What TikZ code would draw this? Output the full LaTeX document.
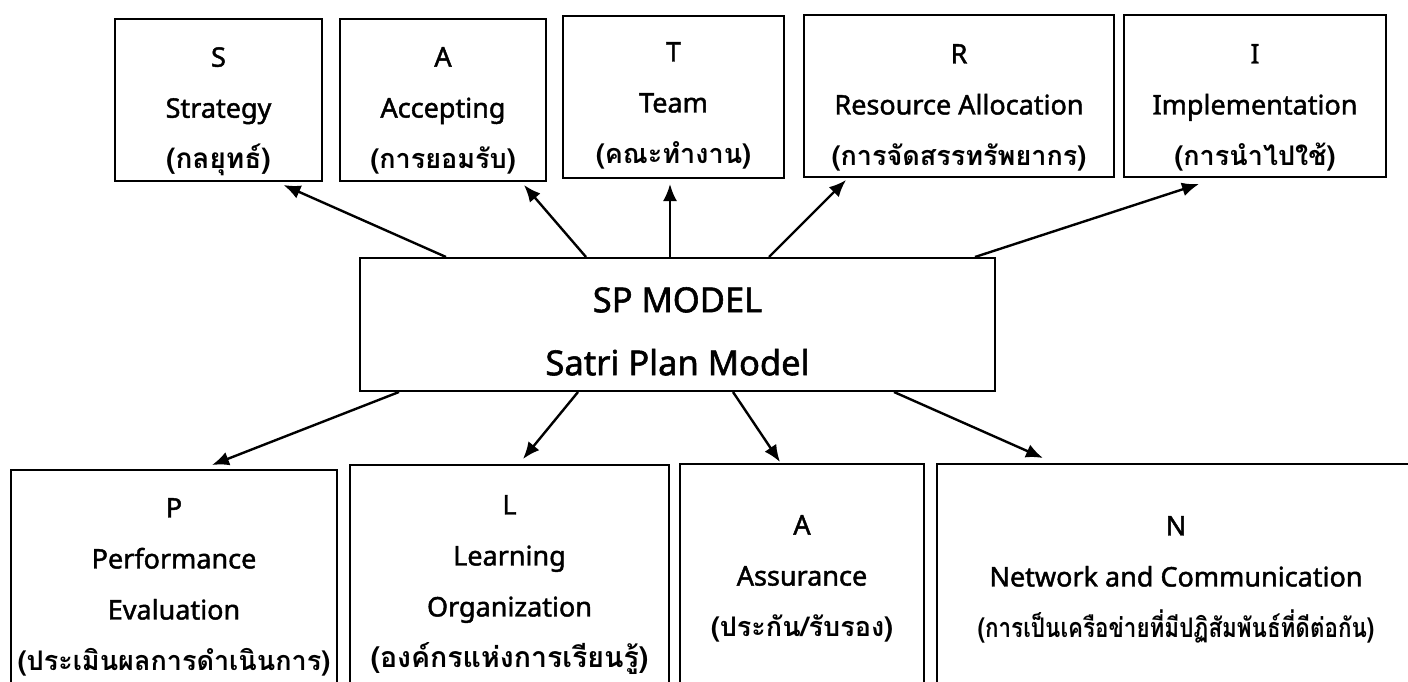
\documentclass[tikz,border=0pt]{standalone}
\usepackage{fontspec}
\usepackage{graphicx}
\setmainfont{Noto Sans}[FakeBold=1.6,AutoFakeBold=1.6]
\newfontfamily\thaifont[Script=Thai]{Loma}
\newcommand\thtext[2][27]{{\thaifont\bfseries\fontsize{#1}{51}\selectfont #2}}
\usetikzlibrary{arrows.meta}
\begin{document}
\begin{tikzpicture}[x=1pt,y=-1pt,
  box/.style={draw=black,line width=2pt,inner sep=0pt,anchor=north west},
  lbl/.style={align=center,inner sep=0pt,anchor=north,font=\fontsize{27}{51}\selectfont},
  mainlbl/.style={align=center,inner sep=0pt,anchor=north,font=\fontsize{34.5}{63}\selectfont},
  arr/.style={line width=2.4pt,-{Latex[length=17pt,width=14pt]}}]
\clip (0,0) rectangle (1408,682);
\fill[white] (0,0) rectangle (1408,682);

% top row of boxes
\node[box,minimum width=207pt,minimum height=162pt] (s) at (114,18) {};
\node[box,minimum width=206pt,minimum height=162pt] (a) at (339,18) {};
\node[box,minimum width=221pt,minimum height=162pt] (t) at (562,15) {};
\node[box,minimum width=310pt,minimum height=162pt] (r) at (803,14) {};
\node[box,minimum width=262pt,minimum height=162pt] (i) at (1123,14) {};

\node[lbl] (sl) at ([yshift=-29pt]s.north) {S\\Strategy\\\thtext[28]{(กลยุทธ์)}};
\node[lbl] (al) at ([yshift=-29pt]a.north) {A\\Accepting\\\thtext{(การยอมรับ)}};
\node[lbl] (tl) at ([yshift=-27pt]t.north) {T\\Team\\\thtext{(คณะทำงาน)}};
\node[lbl] (rl) at ([yshift=-30pt]r.north) {R\\Resource Allocation\\\thtext{(การจัดสรรทรัพยากร)}};
\node[lbl] (il) at ([yshift=-30pt]i.north) {I\\Implementation\\\thtext{(การนำไปใช้)}};

% central box
\node[box,minimum width=635pt,minimum height=133pt] (c) at (359,257) {};
\node[mainlbl] (cl) at ([yshift=-30pt]c.north) {SP MODEL\\Satri Plan Model};

% bottom row of boxes, running off the lower edge
\node[box,minimum width=326pt,minimum height=260pt] (p) at (10,469) {};
\node[box,minimum width=319pt,minimum height=260pt] (l) at (349,464) {};
\node[box,minimum width=244pt,minimum height=260pt] (a2) at (679,463) {};
\node[box,minimum width=478pt,minimum height=260pt] (n) at (936,463) {};

\node[lbl] (pl) at ([yshift=-29pt]p.north) {P\\Performance\\Evaluation\\\thtext{(ประเมินผลการดำเนินการ)}};
\node[lbl] (ll) at ([yshift=-31pt]l.north) {L\\Learning\\Organization\\\thtext[28.5]{(องค์กรแห่งการเรียนรู้)}};
\node[lbl] (a2l) at ([yshift=-52pt]a2.north) {A\\Assurance\\\thtext{(ประกัน/รับรอง)}};
\node[lbl] (nl) at ([yshift=-53pt]n.north) {N\\Network and Communication\\\scalebox{0.83}[1]{\thtext{(การเป็นเครือข่ายที่มีปฏิสัมพันธ์ที่ดีต่อกัน)}}};

% connectors from the central box
\draw[arr] ([xshift=-231.5pt]c.north) -- ([xshift=65pt,yshift=-3pt]s.south);
\draw[arr] ([xshift=-91.5pt]c.north) -- ([xshift=81pt,yshift=-3pt]a.south);
\draw[arr] ([xshift=-7.5pt]c.north) -- ([xshift=-3.5pt,yshift=-5pt]t.south);
\draw[arr] ([xshift=91.5pt]c.north) -- ([xshift=-113pt,yshift=-2pt]r.south);
\draw[arr] ([xshift=297.5pt]c.north) -- ([xshift=-56pt,yshift=-6pt]i.south);

\draw[arr] ([xshift=-278.5pt]c.south) -- ([xshift=38pt,yshift=4pt]p.north);
\draw[arr] ([xshift=-99.5pt]c.south) -- ([xshift=13.5pt,yshift=5pt]l.north);
\draw[arr] ([xshift=55.5pt]c.south) -- ([xshift=-22pt,yshift=1pt]a2.north);
\draw[arr] ([xshift=216.5pt]c.south) -- ([xshift=-133pt,yshift=5pt]n.north);
\end{tikzpicture}
\end{document}
